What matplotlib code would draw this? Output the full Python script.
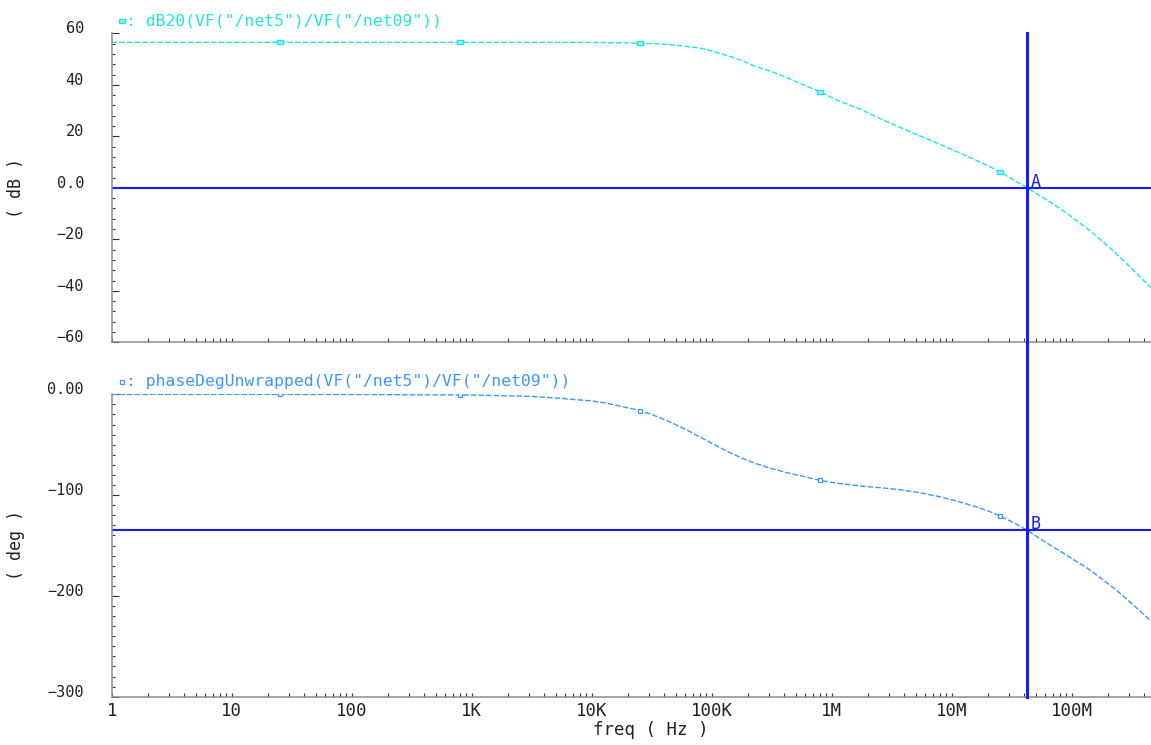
import matplotlib
matplotlib.use("Agg")
import matplotlib.pyplot as plt
import matplotlib.ticker as mticker
import matplotlib.transforms as mtransforms
from matplotlib.lines import Line2D
import numpy as np

# AC sweep of the open loop: frequency (Hz), gain (dB) and unwrapped phase (deg)
freq_hz = [1, 10, 100, 1e3, 3.2e3, 5.5e3, 1.0e4, 1.3e4, 2.4e4, 3.2e4,
           4.5e4, 6.3e4, 8.0e4, 1.0e5, 1.4e5, 1.8e5, 2.3e5, 3.2e5, 4.2e5, 5.6e5,
           8.0e5, 1.1e6, 1.8e6, 2.5e6, 3.6e6, 5.2e6, 7.6e6, 1.07e7, 1.55e7, 2.0e7,
           2.57e7, 3.3e7, 4.27e7, 5.25e7, 6.6e7, 9.5e7, 1.35e8, 1.78e8, 2.24e8, 3.16e8,
           4.57e8]
gain_db = [56.5, 56.5, 56.5, 56.5, 56.5, 56.5, 56.4, 56.4, 56.2, 56.0,
           55.6, 54.9, 54.2, 53.2, 51.1, 49.4, 47.2, 45.0, 42.9, 40.3,
           37.3, 34.1, 30.2, 27.0, 23.7, 20.5, 17.4, 14.3, 11.0, 8.6,
           5.9, 3.0, 0.0, -2.7, -5.5, -10.5, -15.9, -20.5, -24.7, -31.3,
           -38.8]
phase_deg = [-0.1, -0.1, -0.2, -0.7, -2.1, -4.0, -6.6, -8.5, -15.5, -20.2,
             -27.4, -35.8, -42.4, -48.5, -57.6, -63.5, -68.5, -73.8, -77.7, -81.0,
             -85.4, -88.2, -91.1, -92.6, -94.4, -97.3, -101.1, -105.5, -111.1, -115.5,
             -121.1, -127.5, -135.0, -142.0, -149.5, -161.2, -172.5, -183.0, -192.0, -207.5,
             -224.7]

# cursor A/B at the unity gain crossing
cursor_freq = 4.27e7
cursor_gain = 0.0
cursor_phase = -135.0

# trace identification symbols along the curves
marker_freqs = [25.1, 794, 2.51e4, 7.94e5, 2.51e7]

decades = [1, 10, 100, 1e3, 1e4, 1e5, 1e6, 1e7, 1e8]
decade_labels = ["1", "10", "100", "1K", "10K", "100K", "1M", "10M", "100M"]
gain_ticks = [60, 40, 20, 0, -20, -40, -60]
gain_tick_labels = ["60", "40", "20", "0.0", "\u221220", "\u221240", "\u221260"]
phase_ticks = [0, -100, -200, -300]
phase_tick_labels = ["0.00", "\u2212100", "\u2212200", "\u2212300"]

gain_color = "#1fe6e6"
phase_color = "#3d97ff"
cursor_color = "#1a1aff"
axis_color = "#8c8c8c"
text_color = "#222222"

# small flat box used as the gain trace symbol
gain_symbol = [(-1.0, -0.5), (1.0, -0.5), (1.0, 0.5), (-1.0, 0.5), (-1.0, -0.5)]

plt.rcParams["font.family"] = ["DejaVu Sans Mono", "DejaVu Sans"]

W, H = 1151.0, 745.0
x0 = 111.7
fig = plt.figure(figsize=(W / 100, H / 100), dpi=100)
ax_gain = fig.add_axes([x0 / W, (H - 342.3) / H, (W - x0) / W, (342.3 - 33.3) / H])
ax_phase = fig.add_axes([x0 / W, (H - 696.7) / H, (W - x0) / W, (696.7 - 394.3) / H])

for ax in (ax_gain, ax_phase):
    ax.set_xscale("log")
    ax.set_xlim(1, 10 ** 8.661)
    ax.spines["top"].set_visible(False)
    ax.spines["right"].set_visible(False)
    for side in ("left", "bottom"):
        ax.spines[side].set_color(axis_color)
        ax.spines[side].set_linewidth(1.1)
    ax.xaxis.set_minor_locator(mticker.LogLocator(base=10, subs=np.arange(2, 10), numticks=30))
    ax.xaxis.set_minor_formatter(mticker.NullFormatter())
    ax.tick_params(axis="x", which="both", direction="in", length=2.6, width=0.8,
                   color="#333333", pad=3.6, labelsize=12.5, labelcolor=text_color)
    ax.tick_params(axis="y", which="major", direction="in", length=4.8, width=0.8,
                   color="#333333", pad=20, labelsize=11, labelcolor=text_color)
    ax.tick_params(axis="y", which="minor", direction="in", length=2.5, width=0.8,
                   color="#333333")

# gain panel
ax_gain.set_ylim(-60, 60)
ax_gain.set_yticks(gain_ticks, gain_tick_labels, va="baseline")
ax_gain.yaxis.set_minor_locator(mticker.MultipleLocator(4))
ax_gain.set_xticks(decades)
ax_gain.tick_params(labelbottom=False)
ax_gain.plot(freq_hz, gain_db, color=gain_color, lw=1.0, ls=(0, (4, 1.5)))
ax_gain.plot(marker_freqs, np.interp(np.log10(marker_freqs), np.log10(freq_hz), gain_db),
             ls="none", marker=gain_symbol, ms=4.5, mew=1.0, mfc="#9ff5f5", color=gain_color)
ax_gain.axhline(cursor_gain, color=cursor_color, lw=1.5)
ax_gain.annotate("A", xy=(cursor_freq, cursor_gain), xytext=(3, 1), textcoords="offset pixels",
                 color=cursor_color, fontsize=12, va="baseline", ha="left")
ax_gain.set_ylabel("( dB )", fontsize=12, color=text_color)
ax_gain.yaxis.set_label_coords(-0.0834, 0.5)

# phase panel
ax_phase.set_ylim(-300, 0)
ax_phase.set_yticks(phase_ticks, phase_tick_labels, va="baseline")
ax_phase.yaxis.set_minor_locator(mticker.MultipleLocator(10))
ax_phase.set_xticks(decades, decade_labels)
ax_phase.plot(freq_hz, phase_deg, color=phase_color, lw=1.0, ls=(0, (4, 1.5)))
ax_phase.plot(marker_freqs, np.interp(np.log10(marker_freqs), np.log10(freq_hz), phase_deg),
              ls="none", marker="s", ms=3, mew=0.9, mfc="white", color=phase_color)
ax_phase.axhline(cursor_phase, color=cursor_color, lw=1.5)
ax_phase.annotate("B", xy=(cursor_freq, cursor_phase), xytext=(3, 1), textcoords="offset pixels",
                  color=cursor_color, fontsize=12, va="baseline", ha="left")
ax_phase.set_ylabel("( deg )", fontsize=12, color=text_color)
ax_phase.yaxis.set_label_coords(-0.0834, 0.5)
ax_phase.set_xlabel("freq ( Hz )", fontsize=12.5, color=text_color, va="center")
ax_phase.xaxis.set_label_coords(0.519, -0.110)


def trace_label(ax, text, color, marker, ms, mew, mfc):
    sym = mtransforms.offset_copy(ax.transAxes, fig=fig, x=10.5, y=12.5, units="dots")
    ax.plot([0], [1], transform=sym, clip_on=False, ls="none", marker=marker,
            ms=ms, mew=mew, mfc=mfc, color=color)
    txt = mtransforms.offset_copy(ax.transAxes, fig=fig, x=14.5, y=12.5, units="dots")
    ax.text(0, 1, ": " + text, transform=txt, color=color, fontsize=11.8,
            ha="left", va="center")


trace_label(ax_gain, 'dB20(VF("/net5")/VF("/net09"))', gain_color, gain_symbol, 4.5, 1.0, "#9ff5f5")
trace_label(ax_phase, 'phaseDegUnwrapped(VF("/net5")/VF("/net09"))', phase_color, "s", 3, 0.9, "white")

# vertical cursor running through both panels
span = mtransforms.blended_transform_factory(ax_gain.transData, fig.transFigure)
y_lo = ax_phase.get_position().y0
y_hi = ax_gain.get_position().y1
fig.add_artist(Line2D([cursor_freq, cursor_freq], [y_lo, y_hi], transform=span,
                      color=cursor_color, lw=2.2))

fig.savefig("out.png", dpi=100)
